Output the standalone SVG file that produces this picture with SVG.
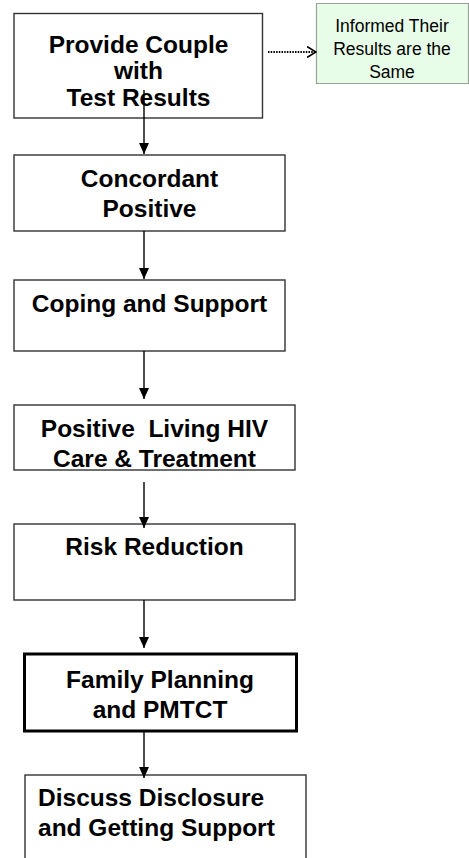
<svg xmlns="http://www.w3.org/2000/svg" width="469" height="858" viewBox="0 0 469 858">
  <defs>
    <marker id="arrow" viewBox="0 0 11 10" refX="11" refY="5" markerWidth="11" markerHeight="10" markerUnits="userSpaceOnUse" orient="auto">
      <path d="M0,0 L11,5 L0,10 Z" fill="#000"/>
    </marker>
    <marker id="chevron" viewBox="0 0 10 12" refX="9" refY="6" markerWidth="10" markerHeight="12" markerUnits="userSpaceOnUse" orient="auto">
      <path d="M0,0.5 L9,6 L0,11.5" fill="none" stroke="#000" stroke-width="1.6"/>
    </marker>
  </defs>
  <style>
    .box { fill: #fff; stroke: #333; stroke-width: 1.4; }
    .thick { fill: #fff; stroke: #000; stroke-width: 3; }
    .note { fill: #e8fde8; stroke: #444; stroke-width: 1.2; stroke-dasharray: 1 1; }
    .t { font-family: "Liberation Sans", Arial, sans-serif; font-weight: bold; font-size: 24.5px; fill: #000; text-anchor: middle; white-space: pre; }
    .tl { text-anchor: start; }
    .n { font-family: "Liberation Sans", Arial, sans-serif; font-size: 17.5px; fill: #000; text-anchor: middle; }
    .flow { stroke: #000; stroke-width: 1.4; fill: none; }
    .dot { stroke: #000; stroke-width: 2; fill: none; stroke-dasharray: 1.5 1.2; }
  </style>

  <g id="provide-results">
    <rect class="box" x="14" y="13.5" width="248.5" height="104.5"/>
    <text class="t" x="138.5" y="53">Provide Couple</text>
    <text class="t" x="138.5" y="79">with</text>
    <text class="t" x="138.5" y="106">Test Results</text>
  </g>

  <g id="same-results">
    <rect class="note" x="316.5" y="3.5" width="152" height="80"/>
    <text class="n" x="392" y="32">Informed Their</text>
    <text class="n" x="392" y="55">Results are the</text>
    <text class="n" x="392" y="78">Same</text>
  </g>

  <g id="concordant-positive">
    <rect class="box" x="14" y="155" width="271" height="76"/>
    <text class="t" x="149.5" y="187">Concordant</text>
    <text class="t" x="149.5" y="217">Positive</text>
  </g>

  <g id="coping-support">
    <rect class="box" x="14" y="280" width="271" height="71"/>
    <text class="t" x="149.5" y="312">Coping and Support</text>
  </g>

  <g id="positive-living">
    <rect class="box" x="14" y="405" width="281" height="65"/>
    <text class="t" x="154.5" y="437">Positive  Living HIV</text>
    <text class="t" x="154.5" y="467">Care &amp; Treatment</text>
  </g>

  <g id="risk-reduction">
    <rect class="box" x="14" y="524" width="281" height="76"/>
    <text class="t" x="154.5" y="555">Risk Reduction</text>
  </g>

  <g id="family-planning">
    <rect class="thick" x="24.5" y="654" width="272" height="77"/>
    <text class="t" x="160" y="688">Family Planning</text>
    <text class="t" x="160" y="718">and PMTCT</text>
  </g>

  <g id="disclosure">
    <rect class="box" x="25" y="775" width="281" height="100"/>
    <text class="t tl" x="38" y="806">Discuss Disclosure</text>
    <text class="t tl" x="38" y="836">and Getting Support</text>
  </g>

  <g id="connectors">
    <line class="dot" x1="268" y1="52" x2="316" y2="52" marker-end="url(#chevron)"/>
    <line class="flow" x1="144" y1="90" x2="144" y2="154" marker-end="url(#arrow)"/>
    <line class="flow" x1="144" y1="231" x2="144" y2="279" marker-end="url(#arrow)"/>
    <line class="flow" x1="144" y1="351" x2="144" y2="399" marker-end="url(#arrow)"/>
    <line class="flow" x1="144" y1="482" x2="144" y2="528" marker-end="url(#arrow)"/>
    <line class="flow" x1="144" y1="600" x2="144" y2="648" marker-end="url(#arrow)"/>
    <line class="flow" x1="144" y1="732" x2="144" y2="778" marker-end="url(#arrow)"/>
  </g>
</svg>
